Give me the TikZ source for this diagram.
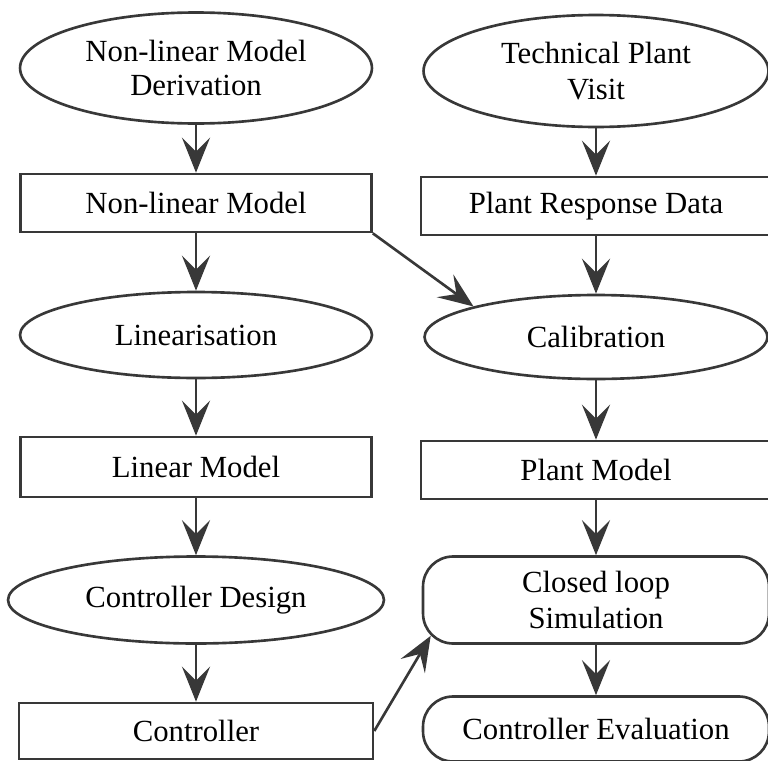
\documentclass[tikz,border=0pt]{standalone}
\usepackage{fontspec}
\setmainfont{Liberation Serif}
\usetikzlibrary{shapes.geometric,arrows.meta,calc}

\tikzset{
  stagebox/.style={draw=black!78, line width=1.5pt, fill=white, align=center,
    inner sep=0pt, font=\fontsize{17.5}{20.5}\selectfont},
  ovalbox/.style={stagebox, ellipse},
  resultbox/.style={stagebox, rectangle, minimum width=7.0cm, minimum height=1.16cm},
  simbox/.style={stagebox, rectangle, rounded corners=0.6cm, minimum width=6.92cm},
  flow/.style={draw=black!78, line width=1.5pt,
    -{Stealth[length=20pt, width=16pt, inset=8pt]}}
}

\begin{document}
\begin{tikzpicture}[x=0.02cm, y=-0.02cm]
  \pgfmathsetmacro{\lx}{196} % left column
  \pgfmathsetmacro{\rx}{596} % right column

  \useasboundingbox (0,0) rectangle (768,761);
  \clip (0,0) rectangle (768,761);

  % Left column: model derivation and controller design
  \node[ovalbox, minimum width=7.04cm, minimum height=2.22cm] (nlderiv) at (\lx,68) {Non-linear Model\\[-1pt]Derivation};
  \node[resultbox, minimum width=7.02cm] (nlmodel) at (\lx,203) {Non-linear Model};
  \node[ovalbox, minimum width=7.04cm, minimum height=1.72cm] (linear) at (\lx,335) {Linearisation};
  \node[resultbox, minimum width=7.02cm, minimum height=1.2cm] (linmodel) at (\lx,467) {Linear Model};
  \node[ovalbox, minimum width=7.52cm, minimum height=1.74cm] (design) at (\lx,600) {Controller Design};
  \node[resultbox, minimum width=7.08cm, minimum height=1.12cm] (ctrl) at (\lx,731) {Controller};

  % Right column: plant data, calibration and evaluation
  \node[ovalbox, minimum width=6.9cm, minimum height=2.24cm] (visit) at (\rx,71) {Technical Plant\\Visit};
  \node[resultbox] (response) at (\rx,206) {Plant Response Data};
  \node[ovalbox, minimum width=6.86cm, minimum height=1.68cm] (calib) at (\rx,337) {Calibration};
  \node[resultbox] (plant) at (\rx,470) {Plant Model};
  \node[simbox, minimum height=1.74cm] (sim) at (\rx,600) {Closed loop\\Simulation};
  \node[simbox, minimum height=1.3cm] (eval) at (\rx,729) {Controller Evaluation};

  % Arrows down the columns
  \draw[flow] (nlderiv) -- (nlmodel);
  \draw[flow] (nlmodel) -- (linear);
  \draw[flow] (linear) -- (linmodel);
  \draw[flow] (linmodel) -- (design);
  \draw[flow] (design) -- (ctrl);

  \draw[flow] (visit) -- (response);
  \draw[flow] (response) -- (calib);
  \draw[flow] (calib) -- (plant);
  \draw[flow] (plant) -- (sim);
  \draw[flow] (sim) -- (eval);

  % Cross links
  \draw[flow] (nlmodel.south east) -- (calib.166);
  \draw[flow] (ctrl.east) -- ($(sim.south west)+(9,-9)$);

\end{tikzpicture}
\end{document}
